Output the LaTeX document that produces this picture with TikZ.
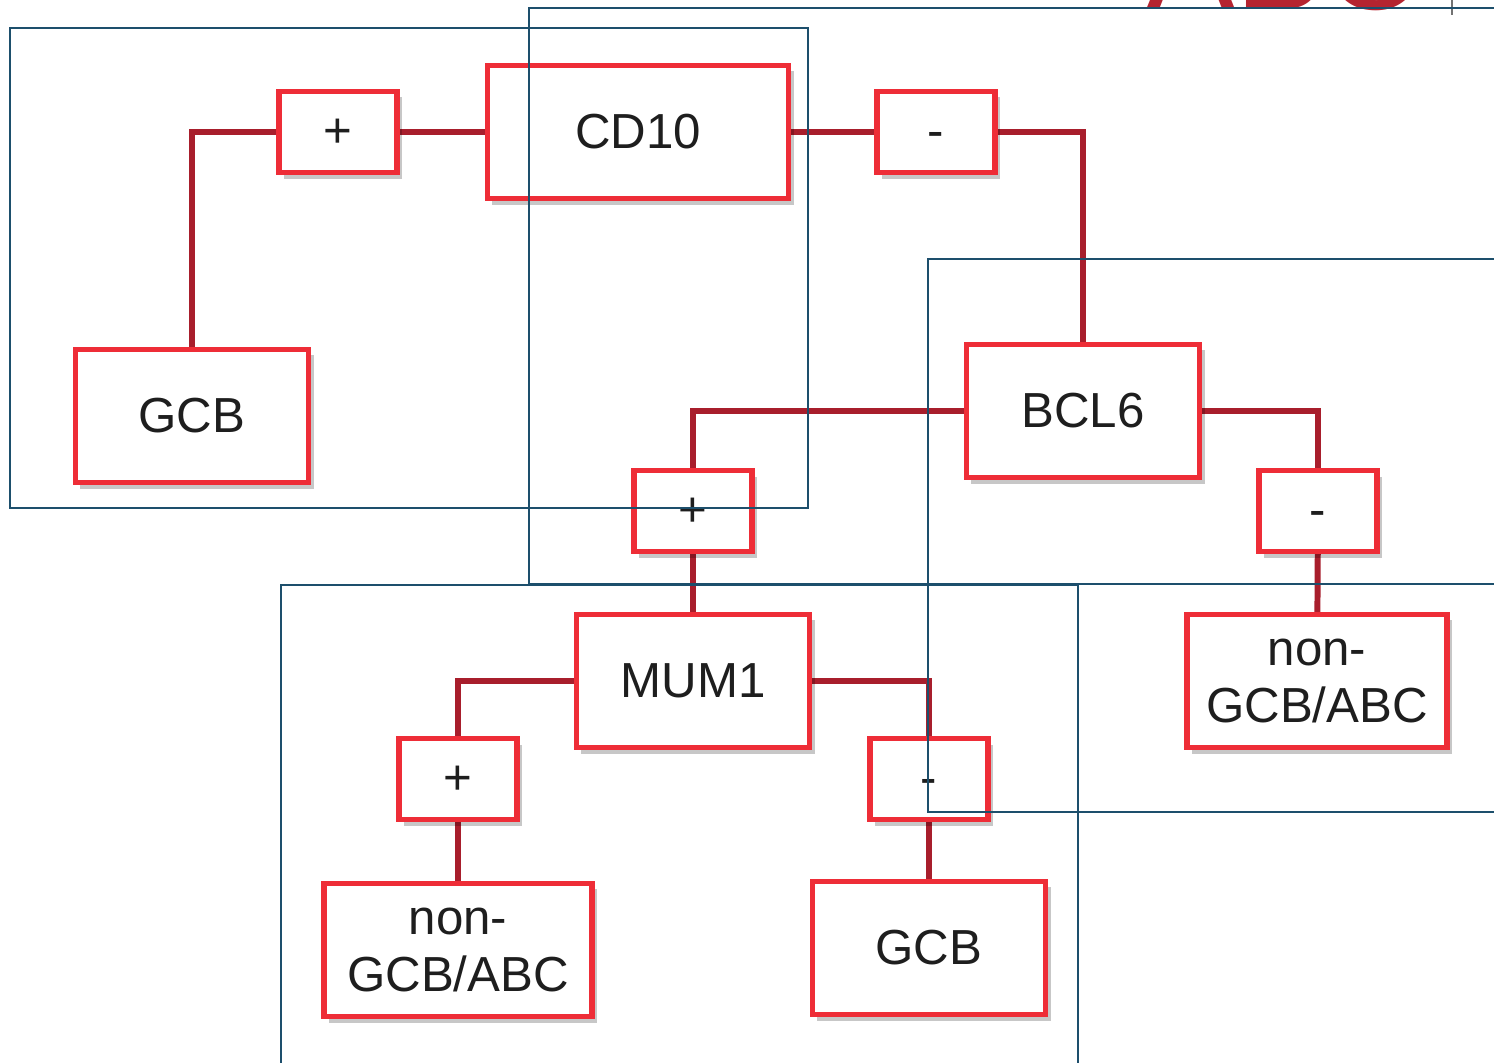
\documentclass[tikz,border=0pt]{standalone}
\usepackage{fontspec}
\setmainfont{Liberation Sans}
\usetikzlibrary{shadows,positioning}
\definecolor{boxred}{HTML}{EE2D37}
\definecolor{linkred}{HTML}{A81E2C}
\definecolor{frameblue}{HTML}{1D4F6C}
\definecolor{textgray}{HTML}{1E1E1E}
\definecolor{titlered}{HTML}{B52430}
\tikzstyle{link} = [line width=1.7pt,draw=linkred]
\tikzstyle{frame} = [draw=frameblue,line width=0.6pt]
\pgfdeclarelayer{bg}
\pgfdeclarelayer{fg}
\pgfsetlayers{bg,main,fg}
\tikzset{marker/.style={rectangle,draw=boxred,fill=white,line width=1.5pt,text=textgray,inner sep=0pt,align=center,font=\fontsize{14}{16.3}\selectfont,drop shadow={shadow xshift=0.05cm,shadow yshift=-0.06cm,opacity=0.22,fill=black}},
  decision/.style={marker,minimum width=2.33cm,minimum height=1.33cm},
  sign/.style={marker,minimum width=1.18cm,minimum height=0.81cm,text height=0.3cm}}

\begin{document}
\begin{tikzpicture}[x=0.01cm,y=-0.01cm]
    \useasboundingbox (0,0) rectangle (1494,1062);
    \clip (0,0) rectangle (1494,1062);

    % title, cut at the top edge
    \node [anchor=base west, inner sep=0pt, text=titlered, font=\fontsize{38}{38}\selectfont] (title) at (1146,9) {ABC};
    \draw [black!55, line width=0.4pt] (1452,0) -- (1452,15);

    \node [decision, minimum width=3.01cm] (cd10) at (638,132) {CD10};
    \node [sign] (plus1) at (338,132) {+};
    \node [sign] (minus1) at (936,132) {-};
    \node [decision] (gcb1) at (192,416) {GCB};

    \node [decision] (bcl6) at (1083,411) {BCL6};
    \node [sign] (plus2) at (693,511) {+};
    \node [sign] (minus2) at (1318,511) {-};
    \node [decision, minimum width=2.6cm] (nongcb1) at (1317,681) {non-\\GCB/ABC};

    \node [decision] (mum1) at (693,681) {MUM1};
    \node [sign] (plus3) at (458,779) {+};
    \node [sign] (minus3) at (929,779) {-};
    \node [decision, minimum width=2.68cm] (nongcb2) at (458,950) {non-\\GCB/ABC};
    \node [decision] (gcb2) at (929,948) {GCB};

    \begin{pgfonlayer}{bg} % links behind the boxes
    \draw [link] (cd10) -- (plus1);
    \draw [link] (plus1) -| (gcb1);
    \draw [link] (cd10) -- (minus1);
    \draw [link] (minus1) -| (bcl6);
    \draw [link] (bcl6) -| (plus2);
    \draw [link] (plus2) -- (mum1);
    \draw [link] (bcl6) -| (minus2);
    \draw [link] (minus2) -- (nongcb1);
    \draw [link] (mum1) -| (plus3);
    \draw [link] (plus3) -- (nongcb2);
    \draw [link] (mum1) -| (minus3);
    \draw [link] (minus3) -- (gcb2);
    \end{pgfonlayer}

    \begin{pgfonlayer}{fg} % outline frames on top
    \draw [frame] (10,28) rectangle (808,508);
    \draw [frame] (529,8) rectangle (1600,584);
    \draw [frame] (928,259) rectangle (1600,812);
    \draw [frame] (281,585) rectangle (1078,1200);
    \end{pgfonlayer}
\end{tikzpicture}
\end{document}
